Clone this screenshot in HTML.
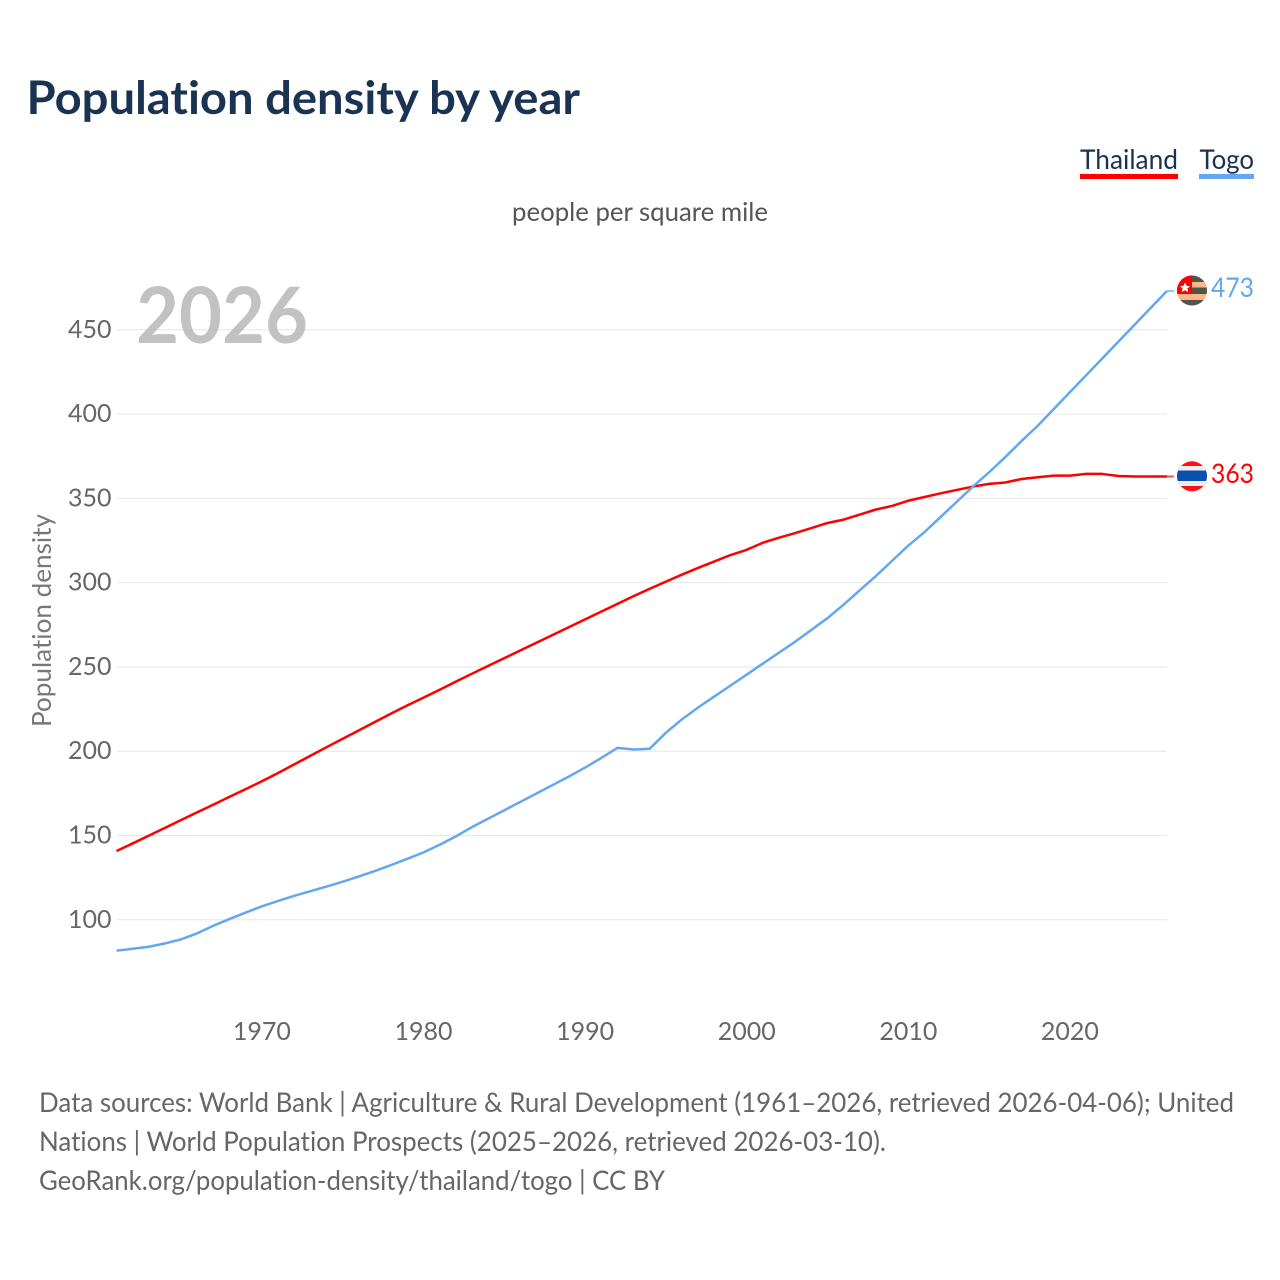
<!DOCTYPE html>
<html lang="en">
<head>
<meta charset="utf-8">
<title>Population density by year</title>
<style>
html,body{margin:0;padding:0;background:#fff;width:1280px;height:1280px;overflow:hidden}
svg{display:block}
text{font-family:"Lato","Carlito","Liberation Sans",sans-serif;font-variant-ligatures:none;font-feature-settings:"liga" 0,"clig" 0}
</style>
</head>
<body>
<svg id="chart" xmlns="http://www.w3.org/2000/svg" width="1280" height="1280" viewBox="0 0 1280 1280">
  <defs>
    <clipPath id="clip-togo"><circle cx="1192" cy="290.5" r="15"></circle></clipPath>
    <clipPath id="clip-thai"><circle cx="1192" cy="476.3" r="15"></circle></clipPath>
  </defs>
  <text x="26.5" y="114" font-size="46" font-weight="700" fill="#1a3352" textLength="553.5" lengthAdjust="spacingAndGlyphs">Population density by year</text>

  <g>
    <g style="cursor:pointer">
      <text x="1080" y="169" font-size="27" fill="#1a3352" textLength="98" lengthAdjust="spacingAndGlyphs">Thailand</text>
      <rect x="1080" y="174" width="98" height="5" fill="#ff0000"></rect>
    </g>
    <g style="cursor:pointer">
      <text x="1199.5" y="169" font-size="27" fill="#1a3352" textLength="54.5" lengthAdjust="spacingAndGlyphs">Togo</text>
      <rect x="1199" y="174" width="55" height="5" fill="#63a7f1"></rect>
    </g>
  </g>

  <text x="512" y="221" font-size="26" fill="#555" textLength="256" lengthAdjust="spacingAndGlyphs">people per square mile</text>
  <text transform="translate(51,727) rotate(-90)" x="0" y="0" font-size="26" fill="#777" textLength="213" lengthAdjust="spacingAndGlyphs">Population density</text>

  <g id="grid"></g>
  <g id="y-ticks"></g>
  <g id="x-ticks"></g>

  <text x="136" y="343" font-size="78" font-weight="700" fill="#b4b4b4" fill-opacity="0.82" textLength="172" lengthAdjust="spacingAndGlyphs">2026</text>

  <g id="series"></g>

  <g clip-path="url(#clip-togo)">
    <rect x="1176" y="275" width="32" height="32" fill="#4f5548"></rect>
    <rect x="1176" y="282" width="32" height="5.5" fill="#ffb58a"></rect>
    <rect x="1176" y="294" width="32" height="6" fill="#ffb58a"></rect>
    <rect x="1176" y="275" width="16" height="19" fill="#ff0000"></rect>
    <polygon points="1185,282.5 1186.5,285.8 1190,286.2 1187.4,288.5 1188.2,292 1185,290.2 1181.8,292 1182.6,288.5 1180,286.2 1183.5,285.8" fill="#fff"></polygon>
  </g>
  <g clip-path="url(#clip-thai)">
    <rect x="1176" y="461" width="32" height="31" fill="#ff0f14"></rect>
    <rect x="1176" y="466" width="32" height="20" fill="#eeeeee"></rect>
    <rect x="1176" y="470.5" width="32" height="10.5" fill="#0a50b0"></rect>
  </g>

  <text id="value-togo" x="1211" y="297" font-size="27" fill="#63a7f1" textLength="43" lengthAdjust="spacingAndGlyphs"></text>
  <text id="value-thailand" x="1211" y="483" font-size="27" fill="#ff0000" textLength="43" lengthAdjust="spacingAndGlyphs"></text>

  <g font-size="27" fill="#666">
    <text x="39" y="1112" textLength="1195" lengthAdjust="spacingAndGlyphs">Data sources: World Bank | Agriculture &amp; Rural Development (1961–2026, retrieved 2026-04-06); United</text>
    <text x="39" y="1151" textLength="847" lengthAdjust="spacingAndGlyphs">Nations | World Population Prospects (2025–2026, retrieved 2026-03-10).</text>
    <text x="39" y="1190" textLength="626" lengthAdjust="spacingAndGlyphs">GeoRank.org/population-density/thailand/togo | CC BY</text>
  </g>
</svg>
<script>
const startYear = 1961;
const yTickValues = [100, 150, 200, 250, 300, 350, 400, 450];
const xTickYears = [1970, 1980, 1990, 2000, 2010, 2020];
const thailandValues = [140.8, 145.3, 149.9, 154.5, 159.2, 163.8, 168.3, 173, 177.5, 182.2, 187.1, 192.2, 197.3, 202.4, 207.4, 212.4, 217.4, 222.4, 227.2, 231.8, 236.5, 241.3, 246, 250.6, 255.2, 259.8, 264.4, 269, 273.6, 278.2, 282.8, 287.4, 292, 296.4, 300.6, 304.8, 308.8, 312.6, 316.4, 319.5, 323.7, 326.7, 329.4, 332.4, 335.4, 337.4, 340.4, 343.4, 345.5, 348.6, 350.8, 353, 355, 357, 358.6, 359.4, 361.5, 362.5, 363.5, 363.5, 364.5, 364.5, 363.3, 363, 363, 363];
const togoValues = [81.7, 82.8, 84, 86, 88.4, 92, 96.5, 100.5, 104.3, 108, 111.2, 114.2, 117, 119.7, 122.6, 125.7, 129, 132.5, 136.2, 140, 144.5, 149.5, 155, 160, 165, 170, 175, 180, 185, 190.3, 196, 202, 201, 201.5, 211, 219, 226, 232.5, 239, 245.5, 252, 258.5, 265, 272, 279, 287, 295.5, 304, 313, 322, 330, 339, 348, 357, 365.5, 374.5, 384, 393, 403, 413, 423, 433, 443, 453, 463, 473];
const endValueTogo = 473;
const endValueThailand = 363;

const NS = 'http://www.w3.org/2000/svg';
const xScale = function (year) { return 116.5 + (year - 1961) * 16.16; };
const yScale = function (v) { return 919.8 - (v - 100) * (590 / 350); };

const gridGroup = document.getElementById('grid');
const yTickGroup = document.getElementById('y-ticks');
yTickValues.forEach(function (v) {
  const line = document.createElementNS(NS, 'line');
  
  
  line.setAttribute('x1', 117);
  line.setAttribute('x2', 1167);
  line.setAttribute('y1', yScale(v));
  line.setAttribute('y2', yScale(v));
  line.setAttribute('stroke', '#e6e6e6');
  line.setAttribute('stroke-width', 1);
  gridGroup.appendChild(line);

  const label = document.createElementNS(NS, 'text');
  
  
  label.setAttribute('x', 111.5);
  label.setAttribute('y', yScale(v) + 8);
  label.setAttribute('text-anchor', 'end');
  label.setAttribute('font-size', 25);
  label.setAttribute('fill', '#666');
  label.textContent = v;
  yTickGroup.appendChild(label);
});

const xTickGroup = document.getElementById('x-ticks');
xTickYears.forEach(function (yr) {
  const label = document.createElementNS(NS, 'text');
  
  
  label.setAttribute('x', xScale(yr));
  label.setAttribute('y', 1040);
  label.setAttribute('text-anchor', 'middle');
  label.setAttribute('font-size', 25);
  label.setAttribute('fill', '#666');
  label.textContent = yr;
  xTickGroup.appendChild(label);
});

const seriesGroup = document.getElementById('series');
function drawSeries(values, color, name) {
  const pts = values.map(function (v, i) {
    return xScale(startYear + i).toFixed(2) + ',' + yScale(v).toFixed(2);
  }).join(' ');
  const line = document.createElementNS(NS, 'polyline');
  
  
  line.setAttribute('points', pts);
  line.setAttribute('fill', 'none');
  line.setAttribute('stroke', color);
  line.setAttribute('stroke-width', 2.5);
  line.setAttribute('stroke-linejoin', 'round');
  seriesGroup.appendChild(line);

  const lastV = values[values.length - 1];
  const lastX = xScale(startYear + values.length - 1);
  const stub = document.createElementNS(NS, 'line');
  
  
  stub.setAttribute('x1', lastX);
  stub.setAttribute('x2', lastX + 7);
  stub.setAttribute('y1', yScale(lastV));
  stub.setAttribute('y2', yScale(lastV));
  stub.setAttribute('stroke', color);
  stub.setAttribute('stroke-opacity', 0.7);
  stub.setAttribute('stroke-width', 2);
  seriesGroup.appendChild(stub);
}
drawSeries(thailandValues, '#ff0000', 'thailand');
drawSeries(togoValues, '#63a7f1', 'togo');

document.getElementById('value-togo').textContent = endValueTogo;
document.getElementById('value-thailand').textContent = endValueThailand;
</script>
</body>
</html>
